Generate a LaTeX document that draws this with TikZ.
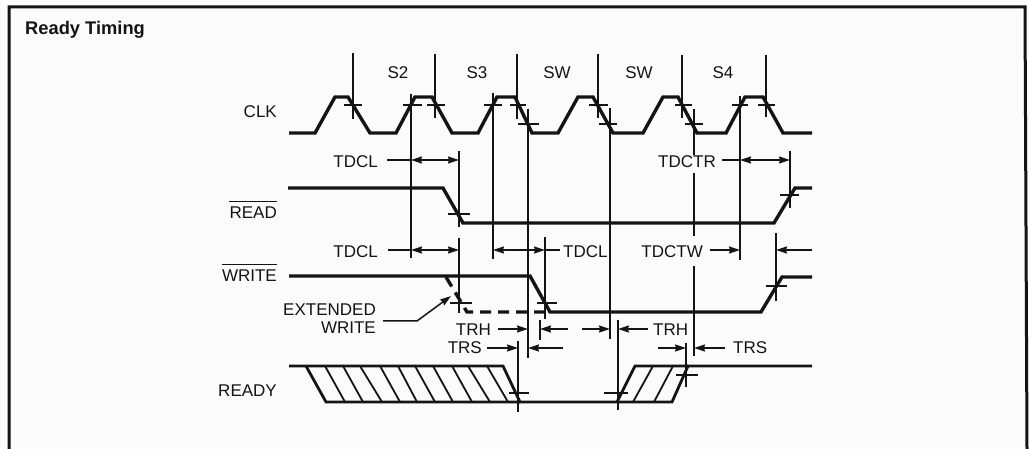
\documentclass[tikz,border=0pt]{standalone}
\usepackage{fontspec}
\setmainfont{Liberation Sans}
\usetikzlibrary{arrows.meta}
\definecolor{paper}{gray}{0.985}
\definecolor{ink}{gray}{0.08}
\tikzset{
  wave/.style={line width=3.4pt,color=ink,line join=miter},
  thinwave/.style={line width=2.8pt,color=ink},
  mark line/.style={line width=1.8pt,color=ink},
  dim/.style={line width=1.5pt,color=ink},
  tip/.style={-{Stealth[length=11pt,width=7pt,inset=1pt]}},
  tips/.style={{Stealth[length=11pt,width=7pt,inset=1pt]}-{Stealth[length=11pt,width=7pt,inset=1pt]}},
  lab/.style={font=\fontsize{17}{18}\selectfont,color=ink,inner xsep=0pt,inner ysep=5.5pt}
}
\begin{document}
\begin{tikzpicture}[x=1pt,y=-1pt]
  \useasboundingbox[fill=paper] (0,0) rectangle (1029,449);
  % frame, open along the bottom
  \draw[line width=3pt,color=ink] (9,449) -- (9,7) -- (1025,7) -- (1027,449);
  \node[font=\bfseries\fontsize{18.3}{20}\selectfont,color=ink,anchor=west,inner sep=0pt] (title) at (25,30) {Ready Timing};

  % signal names
  \node[lab,anchor=east] (clk) at (277,112) {CLK};
  \node[lab,anchor=east] (read) at (277,213) {READ};
  \node[lab,anchor=east] (write) at (277,276) {WRITE};
  \node[lab,anchor=east] (ready) at (277,391) {READY};
  \draw[dim] (read.north west) -- (read.north east);
  \draw[dim] (write.north west) -- (write.north east);

  % state names
  \node[lab] (s2) at (398,73) {S2};
  \node[lab] (s3) at (477,73) {S3};
  \node[lab] (sw1) at (557,73) {SW};
  \node[lab] (sw2) at (639,73) {SW};
  \node[lab] (s4) at (723,73) {S4};

  % waveforms
  \draw[wave] (289,133) -- (315,133) -- (335,97) -- (348,97) -- (370,133) -- (396,133) -- (415,97) -- (432,97)
    -- (452,133) -- (478,133) -- (497,97) -- (515,97) -- (532,133) -- (558,133) -- (578,97) -- (593,97)
    -- (613,133) -- (643,133) -- (663,97) -- (678,97) -- (697,133) -- (726,133) -- (745,97) -- (763,97)
    -- (783,133) -- (812,133);
  \draw[wave] (288,188) -- (443,188) -- (463,223) -- (774,223) -- (795,188) -- (812,188);
  \draw[wave] (289,276) -- (530,276) -- (550,312) -- (761,312) -- (782,277) -- (812,277);
  \draw[wave,dash pattern=on 11pt off 7pt] (446,277) -- (467,312) -- (550,312);
  \draw[thinwave] (289,366) -- (503,366) -- (520,402) -- (672,402) -- (688,366) -- (812,366);
  \draw[thinwave] (306,366) -- (326,402) -- (520,402);
  \draw[thinwave] (617,402) -- (635,366) -- (688,366);
  % hatching
  \foreach \a/\b in {325/345,343/363,360/382,380/400,398/417,415/435,433/453,452/472,468/490,487/508}
    \draw[mark line] (\a,366) -- (\b,402);
  \foreach \a/\b in {633/653,654/673}
    \draw[mark line] (\a,402) -- (\b,366);

  % timing marks
  \foreach \x/\a/\b in {353/53/119,435/54/118,517/54/119,598/54/118,682/55/118,766/55/117,
      411/94/258,493/93/259,528/109/358,610/108/339,694/109/155,694/173/236,694/266/356,740/96/260,
      459/151/227,459/238/313,545/237/319,790/151/208,776/233/301,540/320/340,618/320/410,518/341/412,686/343/387}
    \draw[mark line] (\x,\a) -- (\x,\b);
  \foreach \y/\a/\b in {105/344/362,105/427/445,105/403/422,105/484/502,105/510/526,105/589/608,105/675/692,105/758/775,105/732/748,
      124/518/539,124/599/617,124/685/703,214/448/470,195/780/799,303/450/472,303/537/557,286/766/787,393/509/529,393/604/628,375/676/698}
    \draw[mark line] (\a,\y) -- (\b,\y);

  % measures
  \coordinate (ta) at (411,160);
  \coordinate (tb) at (459,160);
  \coordinate (tc) at (740,160);
  \coordinate (td) at (790,160);
  \coordinate (wa) at (411,250);
  \coordinate (wb) at (459,250);
  \coordinate (wc) at (493,250);
  \coordinate (wd) at (545,250);
  \coordinate (we) at (740,250);
  \coordinate (wf) at (776,250);
  \coordinate (wg) at (812,250);
  \coordinate (ha) at (528,329);
  \coordinate (hb) at (540,329);
  \coordinate (hc) at (568,329);
  \coordinate (hd) at (582,329);
  \coordinate (he) at (610,329);
  \coordinate (hf) at (618,329);
  \coordinate (sa) at (518,348);
  \coordinate (sb) at (528,348);
  \coordinate (sc) at (686,348);
  \coordinate (sd) at (694,348);
  \coordinate (se) at (658,348);
  \coordinate (sf) at (563,348);

  \node[lab,anchor=east] (tdcl1) at (378,162) {TDCL};
  \node[lab,anchor=east] (tdctr) at (716,162) {TDCTR};
  \node[lab,anchor=east] (tdcl2) at (378,252) {TDCL};
  \node[lab,anchor=west] (tdcl3) at (563,252) {TDCL};
  \node[lab,anchor=east] (tdctw) at (703,252) {TDCTW};
  \node[lab,anchor=east] (trh1) at (491,330) {TRH};
  \node[lab,anchor=west] (trh2) at (653,330) {TRH};
  \node[lab,anchor=east] (trs1) at (482,348) {TRS};
  \node[lab,anchor=west] (trs2) at (733,348) {TRS};

  \begin{scope}[dim]
    \draw ([xshift=9pt]tdcl1.east |- ta) -- (ta);
    \draw[tips] (ta) -- (tb);
    \draw ([xshift=6pt]tdctr.east |- tc) -- (tc);
    \draw[tips] (tc) -- (td);
    \draw ([xshift=10pt]tdcl2.east |- wa) -- (wa);
    \draw[tips] (wa) -- (wb);
    \draw[tips] (wc) -- (wd);
    \draw (wd) -- ([xshift=-3pt]tdcl3.west |- wd);
    \draw[tip] ([xshift=7pt]tdctw.east |- we) -- (we);
    \draw[tip] (wg) -- (wf);
    \draw[tip] ([xshift=7pt]trh1.east |- ha) -- (ha);
    \draw[tip] (hc) -- (hb);
    \draw[tip] (hd) -- (he);
    \draw[tip] ([xshift=-5pt]trh2.west |- hf) -- (hf);
    \draw[tip] ([xshift=5pt]trs1.east |- sa) -- (sa);
    \draw[tip] (sf) -- (sb);
    \draw[tip] (se) -- (sc);
    \draw[tip] ([xshift=-8pt]trs2.west |- sd) -- (sd);
  \end{scope}

  % extended write
  \node[lab,anchor=east,align=right,inner ysep=0pt] (extwrite) at (376,319) {EXTENDED\\WRITE};
  \coordinate (extknee) at (417,321);
  \coordinate (extend) at (451,296);
  \draw[dim,tip] ([xshift=7pt]extwrite.east |- extknee) -- (extknee) -- (extend);
\end{tikzpicture}
\end{document}
